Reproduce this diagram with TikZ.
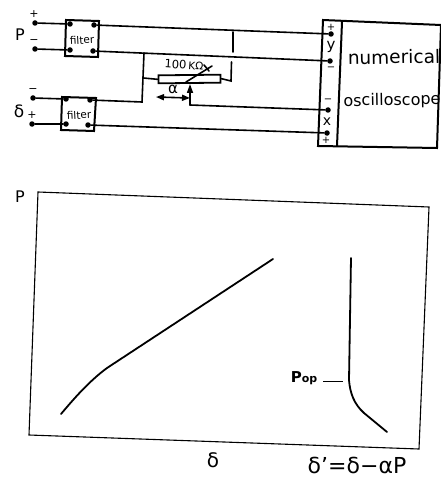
\documentclass[tikz,border=0pt]{standalone}
\usepackage{fontspec}
\setmainfont{DejaVu Sans}
\usetikzlibrary{arrows.meta}
\newcommand{\fsz}[1]{\fontsize{#1}{#1}\selectfont}
\tikzset{
  wire/.style={line width=1.6pt,line cap=round},
  frameline/.style={line width=1.1pt,line join=miter},
  boxline/.style={line width=2pt,line join=miter},
  term/.style={circle,fill=black,inner sep=0pt,minimum size=5.5pt},
  lab/.style={inner sep=0pt,text=black},
  curve/.style={line width=1.8pt,line cap=round}
}
\begin{document}
\begin{tikzpicture}[x=1pt,y=-1pt]
\useasboundingbox (0,0) rectangle (441,484);
\fill[white] (0,0) rectangle (441,484);
% filters
\draw[boxline] (66,20) -- (99,21) -- (98,57) -- (65,56) -- cycle;
\draw[boxline] (62,97) -- (96,98) -- (94,131) -- (61,130) -- cycle;
\node[lab,rotate=3] (fl1) at (82,40) {\fsz{10.5}filter};
\node[lab,rotate=3] (fl2) at (79,115) {\fsz{10.5}filter};
% terminals
\node[term] (pp) at (35,23) {};
\node[term] (pm) at (35,49) {};
\node[term] (dm) at (33,98) {};
\node[term] (dp) at (32,124) {};
\node[term] (f1a) at (70,24) {};
\node[term] (f1b) at (70,50) {};
\node[term] (f1c) at (94,25) {};
\node[term] (f1d) at (93,51) {};
\node[term] (f2a) at (66,99) {};
\node[term] (f2b) at (66,124) {};
\node[term] (f2c) at (90,100) {};
\node[term] (f2d) at (88,125) {};
\node[term] (yp) at (331,34) {};
\node[term] (ym) at (330,61) {};
\node[term] (xm) at (328,110) {};
\node[term] (xp) at (327,133) {};
\draw[wire] (pp) -- (f1a);
\draw[wire] (pm) -- (f1b);
\draw[wire] (dm) -- (f2a);
\draw[wire] (dp) -- (f2b);
\draw[wire] (f1c) -- (yp);
\draw[wire] (f1d) -- (ym);
\draw[wire] (f2d) -- (xp);
% left branch
\coordinate (jt) at (144,53);
\coordinate (jb) at (142,102);
\coordinate (jm) at (143.5,78);
\draw[wire] (f2c) -- (jb) -- (jt);
% resistor
\node[draw,line width=1.8pt,fill=white,minimum width=62pt,minimum height=8pt,inner sep=0pt,rotate=0.6] (res) at (189.5,79) {};
\draw[wire] (jm) -- (res.west);
% right branch
\coordinate (rt) at (233,32);
\coordinate (rg) at (233,52);
\coordinate (rg2) at (231.5,62);
\coordinate (rc) at (231,81);
\draw[wire] (rt) -- (rg);
\draw[wire] (rg2) -- (rc) -- (res.east);
% wiper
\coordinate (wb) at (190,105);
\coordinate (wt) at (190,84);
\draw[wire] (xm) -- (wb);
\draw[wire,-{Triangle[length=9pt,width=6pt]}] (wb) -- (wt);
\coordinate (sa) at (186,82);
\coordinate (sb) at (212,66);
\draw[wire] (sa) -- (sb);
\draw[wire] (204,65) -- (209,71);
% alpha
\coordinate (aa) at (156,97);
\coordinate (ab) at (190,98);
\draw[wire,{Triangle[length=8pt,width=6pt]}-{Triangle[length=8pt,width=6pt]}] (aa) -- (ab);
\node[lab] (alpha) at (173,89) {\fsz{15}α};
\node[lab,rotate=-4] (rv) at (184,65) {\fsz{11.5}100\,\fsz{10.5}KΩ};
% labels at left
\node[lab] (lp) at (20,35) {\fsz{16}P};
\node[lab] (ld) at (19,111) {\fsz{17}δ};
\node[lab] (lpp) at (34,14) {\fsz{11}+};
\node[lab] (lpm) at (34,42) {\fsz{11}−};
\node[lab] (ldm) at (33,91) {\fsz{11}−};
\node[lab] (ldp) at (32,115) {\fsz{11}+};
% oscilloscope
\draw[boxline] (323,20) -- (441,25) -- (437,148) -- (318,146) -- cycle;
\draw[boxline] (342,22) -- (337,146);
\node[lab] (lyp) at (331,27) {\fsz{10}+};
\node[lab] (ly) at (331,47) {\fsz{15}y};
\node[lab] (lym) at (331,69) {\fsz{10}−};
\node[lab] (lxm) at (328,101) {\fsz{10}−};
\node[lab] (lx) at (327,122) {\fsz{14}x};
\node[lab] (lxp) at (326,140) {\fsz{10}+};
\node[lab,rotate=1] (num) at (394,57) {\fsz{18.5}numerical};
\node[lab,rotate=1] (osc) at (392,101) {\fsz{16}oscilloscope};
% plot
\draw[frameline] (38,192) -- (429,207) -- (419,449) -- (29,435) -- cycle;
\node[lab] (lP) at (20,197) {\fsz{16}P};
\draw[curve] (61,414) .. controls (72,401) and (88,382) .. (107,368) -- (273,259);
\draw[curve] (351,258) -- (349,380) .. controls (350,393) and (354,404) .. (364,413) -- (387,432);
\node[lab] (pop) at (304,378) {\fsz{15}\textbf{P}\fsz{11}\textbf{op}};
\coordinate (pa) at (323,381);
\coordinate (pb) at (343,381);
\draw[line width=0.9pt] (pa) -- (pb);
\node[lab] (dx) at (213,460) {\fsz{20}δ};
\node[lab] (dy) at (357,465) {\fsz{22}δ'=δ−αP};
\end{tikzpicture}
\end{document}
